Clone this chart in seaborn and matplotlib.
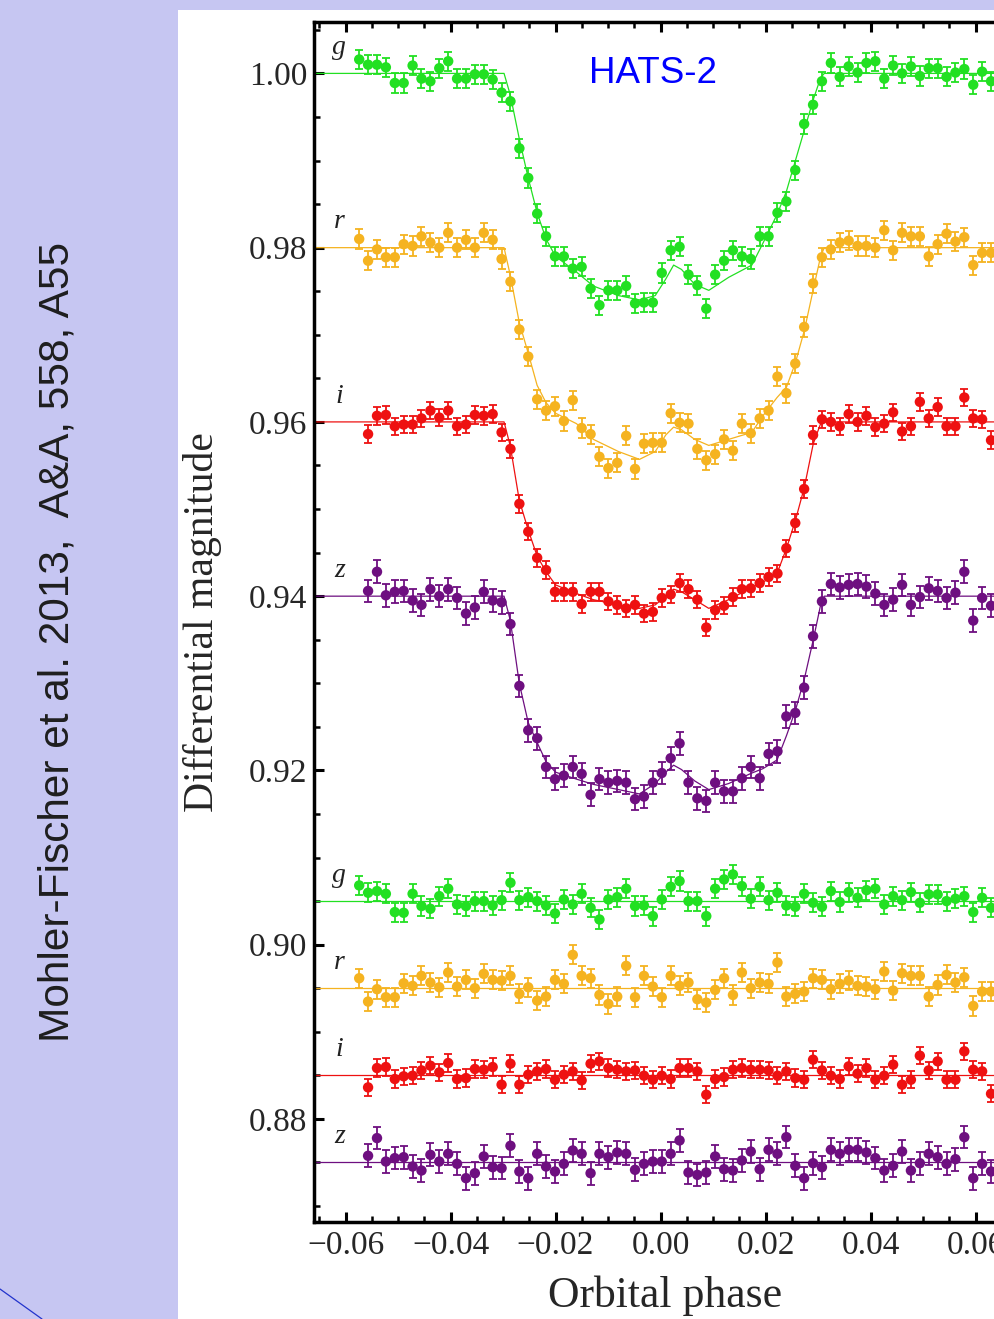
import numpy as np
import pandas as pd
import matplotlib
matplotlib.use("Agg")
import matplotlib.pyplot as plt
from matplotlib.patches import Rectangle
from matplotlib.lines import Line2D
from matplotlib.ticker import MultipleLocator, FuncFormatter
import seaborn as sns

# ---------------- data ----------------
phase = [-0.05739, -0.05570, -0.05400, -0.05231, -0.05061, -0.04892, -0.04722, -0.04553,
         -0.04383, -0.04214, -0.04044, -0.03875, -0.03705, -0.03536, -0.03366, -0.03197,
         -0.03027, -0.02858, -0.02688, -0.02519, -0.02349, -0.02180, -0.02010, -0.01841,
         -0.01671, -0.01502, -0.01332, -0.01163, -0.00993, -0.00824, -0.00654, -0.00485,
         -0.00315, -0.00146, 0.00024, 0.00194, 0.00363, 0.00533, 0.00702, 0.00872,
         0.01041, 0.01211, 0.01380, 0.01550, 0.01719, 0.01889, 0.02058, 0.02228,
         0.02397, 0.02567, 0.02736, 0.02906, 0.03075, 0.03245, 0.03414, 0.03584,
         0.03753, 0.03923, 0.04092, 0.04262, 0.04431, 0.04601, 0.04770, 0.04940,
         0.05109, 0.05279, 0.05448, 0.05618, 0.05787, 0.05957, 0.06126, 0.06296]

lc_g = [1.0016, 1.0010, 1.0010, 1.0007, 0.9989, 0.9989, 1.0009, 0.9994, 0.9991, 1.0006,
        1.0014, 0.9994, 0.9994, 0.9999, 0.9999, 0.9993, 0.9978, 0.9968, 0.9914, 0.9880,
        0.9839, 0.9813, 0.9790, 0.9790, 0.9776, 0.9778, 0.9753, 0.9734, 0.9751, 0.9751,
        0.9756, 0.9736, 0.9737, 0.9737, 0.9771, 0.9797, 0.9801, 0.9769, 0.9757, 0.9730,
        0.9769, 0.9785, 0.9797, 0.9790, 0.9787, 0.9813, 0.9813, 0.9840, 0.9853, 0.9889,
        0.9942, 0.9964, 0.9991, 1.0012, 0.9996, 1.0008, 1.0001, 1.0012, 1.0014, 0.9994,
        1.0009, 1.0000, 1.0008, 0.9997, 1.0006, 1.0006, 0.9996, 1.0001, 1.0005, 0.9987,
        1.0002, 0.9991]

lc_r = [0.9810, 0.9785, 0.9798, 0.9789, 0.9789, 0.9804, 0.9802, 0.9813, 0.9806, 0.9800,
        0.9817, 0.9800, 0.9809, 0.9800, 0.9817, 0.9809, 0.9787, 0.9761, 0.9706, 0.9675,
        0.9626, 0.9613, 0.9618, 0.9601, 0.9625, 0.9593, 0.9586, 0.9560, 0.9547, 0.9553,
        0.9584, 0.9546, 0.9575, 0.9576, 0.9576, 0.9610, 0.9599, 0.9598, 0.9569, 0.9556,
        0.9563, 0.9580, 0.9567, 0.9598, 0.9587, 0.9604, 0.9613, 0.9652, 0.9633, 0.9667,
        0.9709, 0.9759, 0.9789, 0.9798, 0.9806, 0.9808, 0.9802, 0.9802, 0.9800, 0.9820,
        0.9797, 0.9817, 0.9813, 0.9813, 0.9790, 0.9804, 0.9816, 0.9807, 0.9812, 0.9780,
        0.9794, 0.9794]

lc_i = [np.nan, 0.9586, 0.9607, 0.9608, 0.9595, 0.9597, 0.9597, 0.9604, 0.9613, 0.9605,
        0.9613, 0.9595, 0.9597, 0.9608, 0.9607, 0.9609, 0.9588, 0.9569, 0.9506, 0.9474,
        0.9444, 0.9430, 0.9405, 0.9405, 0.9405, 0.9391, 0.9405, 0.9405, 0.9394, 0.9390,
        0.9386, 0.9390, 0.9380, 0.9382, 0.9398, 0.9402, 0.9415, 0.9408, 0.9396, 0.9364,
        0.9384, 0.9389, 0.9399, 0.9408, 0.9409, 0.9415, 0.9422, 0.9426, 0.9455, 0.9484,
        0.9523, 0.9585, 0.9603, 0.9600, 0.9595, 0.9609, 0.9600, 0.9607, 0.9594, 0.9598,
        0.9611, 0.9589, 0.9595, 0.9623, 0.9604, 0.9617, 0.9595, 0.9595, 0.9628, 0.9604,
        0.9603, 0.9579]

lc_z = [np.nan, 0.9406, 0.9428, 0.9401, 0.9405, 0.9406, 0.9395, 0.9390, 0.9408, 0.9400,
        0.9408, 0.9398, 0.9380, 0.9387, 0.9405, 0.9395, 0.9393, 0.9368, 0.9297, 0.9246,
        0.9237, 0.9204, 0.9190, 0.9194, 0.9204, 0.9196, 0.9172, 0.9190, 0.9186, 0.9188,
        0.9186, 0.9167, 0.9170, 0.9186, 0.9197, 0.9214, 0.9231, 0.9186, 0.9168, 0.9165,
        0.9186, 0.9176, 0.9176, 0.9191, 0.9204, 0.9191, 0.9219, 0.9222, 0.9262, 0.9266,
        0.9295, 0.9354, 0.9394, 0.9414, 0.9410, 0.9413, 0.9414, 0.9411, 0.9403, 0.9390,
        0.9396, 0.9413, 0.9390, 0.9399, 0.9409, 0.9406, 0.9398, 0.9404, 0.9428, 0.9372,
        0.9398, 0.9389]

# residuals (data - model), in units of 1e-3 mag
res_g = [1.80, 0.96, 1.15, 0.84, -1.26, -1.34, 0.84, -0.57, -0.88, 0.57,
         1.42, -0.38, -0.57, 0.00, 0.00, -0.50, 0.11, 2.11, 0.11, 0.46,
         0.00, -0.50, -1.42, 0.19, -0.38, 0.84, -0.77, -2.11, 0.19, 0.46,
         1.42, -0.57, -0.50, -1.72, 0.19, 1.65, 2.30, 0.00, 0.00, -1.72,
         1.42, 2.49, 3.06, 1.72, 0.27, 1.65, 0.11, 0.96, -0.50, -0.65,
         0.84, -0.19, -0.65, 1.15, -0.11, 1.03, 0.38, 1.26, 1.42, -0.38,
         0.57, 0.11, 1.03, -0.19, 0.77, 0.77, 0.00, 0.27, 0.57, -1.26,
         0.38, -0.77]

res_r = [1.15, -1.53, -0.11, -1.03, -1.03, 0.57, 0.27, 1.42, 0.65, 0.11,
         1.80, 0.19, 0.96, 0.00, 1.65, 0.96, 0.88, 1.42, -0.65, 0.11,
         -1.42, -0.96, 0.96, 0.50, 3.83, 1.42, 1.15, -0.77, -1.80, -0.96,
         2.57, -1.03, 1.42, 0.19, -1.03, 1.42, 0.27, 0.65, -1.26, -1.65,
         -0.19, 1.15, -0.77, 1.80, 0.00, 0.65, 0.50, 2.95, -0.96, -0.65,
         -0.38, 1.15, 0.96, -0.11, 0.50, 0.88, 0.27, 0.19, -0.11, 1.92,
         -0.27, 1.72, 1.42, 1.42, -0.96, 0.38, 1.53, 0.65, 1.26, -2.03,
         -0.38, -0.38]

res_i = [np.nan, -1.38, 0.84, 0.96, -0.42, -0.11, -0.04, 0.57, 1.11, 0.34,
         1.42, -0.42, -0.31, 0.73, 0.65, 0.96, -1.07, 1.34, -1.07, 0.08,
         0.46, 0.73, -0.50, 0.08, 0.46, -0.57, 1.34, 1.61, 0.84, 0.65,
         0.46, 0.57, -0.04, -0.50, -0.04, -0.42, 0.84, 0.84, 0.46, -2.22,
         -0.42, -0.19, 0.65, 0.84, 0.65, 0.65, 0.57, -0.04, 0.46, -0.31,
         -0.50, 1.80, 0.57, -0.04, -0.42, 1.03, 0.19, 0.84, -0.50, -0.04,
         1.23, -1.07, -0.50, 2.26, 0.57, 1.61, -0.50, -0.50, 2.76, 0.65,
         0.46, -2.11]

res_z = [np.nan, 0.77, 2.80, 0.11, 0.50, 0.61, -0.46, -0.92, 0.88, 0.11,
         1.00, -0.15, -1.80, -1.23, 0.69, -0.54, -0.65, 1.92, -1.03, -1.80,
         1.00, -0.46, -1.03, -0.15, 1.38, 1.00, -1.23, 1.00, 0.61, 1.15,
         1.00, -0.84, -0.15, 0.11, 0.11, 1.00, 2.53, -1.15, -1.42, -1.15,
         0.69, -0.77, -0.92, 0.23, 1.26, -0.77, 1.46, 1.00, 2.91, -0.38,
         -1.80, -0.08, -0.54, 1.46, 1.00, 1.46, 1.46, 1.15, 0.50, -0.92,
         -0.38, 1.26, -0.92, -0.08, 1.00, 0.61, -0.15, 0.38, 2.91, -1.80,
         -0.15, -1.03]

# transit model (with spot-crossing bump), sampled at knots
model_phase = [-0.070, -0.0298, -0.0286, -0.0269, -0.0252, -0.0235, -0.0218, -0.0200,
               -0.0160, -0.0128, -0.0080, -0.0040, -0.0010, 0.0010, 0.0025, 0.0040,
               0.0065, 0.0092, 0.0130, 0.0174, 0.0195, 0.0222, 0.0240, 0.0257,
               0.0274, 0.0291, 0.0305, 0.0312, 0.070]
model_g = [1.0000, 1.0000, 0.9975, 0.9925, 0.9880, 0.9840, 0.9810, 0.9790,
           0.9772, 0.9756, 0.9745, 0.9740, 0.9745, 0.9764, 0.9780, 0.9775,
           0.9758, 0.9751, 0.9766, 0.9780, 0.9805, 0.9838, 0.9865, 0.9900,
           0.9935, 0.9970, 0.9995, 1.0000, 1.0000]
model_r = [0.9800, 0.9800, 0.9768, 0.9714, 0.9679, 0.9642, 0.9622, 0.9610,
           0.9598, 0.9580, 0.9566, 0.9557, 0.9566, 0.9585, 0.9594, 0.9591,
           0.9580, 0.9573, 0.9580, 0.9588, 0.9607, 0.9628, 0.9640, 0.9668,
           0.9705, 0.9752, 0.9790, 0.9800, 0.9800]
model_i = [0.9600, 0.9600, 0.9572, 0.9510, 0.9476, 0.9446, 0.9428, 0.9413,
           0.9403, 0.9396, 0.9390, 0.9386, 0.9390, 0.9400, 0.9408, 0.9405,
           0.9396, 0.9386, 0.9396, 0.9410, 0.9416, 0.9426, 0.9455, 0.9487,
           0.9525, 0.9575, 0.9598, 0.9600, 0.9600]
model_z = [0.9400, 0.9400, 0.9372, 0.9300, 0.9255, 0.9232, 0.9210, 0.9198,
           0.9190, 0.9184, 0.9178, 0.9173, 0.9185, 0.9198, 0.9206, 0.9201,
           0.9188, 0.9178, 0.9185, 0.9197, 0.9202, 0.9212, 0.9240, 0.9269,
           0.9305, 0.9350, 0.9390, 0.9400, 0.9400]

bands = ["g", "r", "i", "z"]
band_colors = ["#22e022", "#f5b320", "#ee1111", "#6e0f80"]
errors = [0.0011, 0.0011, 0.0010, 0.0013]
lc_baselines = [1.00, 0.98, 0.96, 0.94]
res_offsets = [0.905, 0.895, 0.885, 0.875]

light_curves = [lc_g, lc_r, lc_i, lc_z]
residuals = [res_g, res_r, res_i, res_z]
models = [model_g, model_r, model_i, model_z]

# ---------------- tables ----------------
rows = []
mrows = []
for b, lc, res, err, off, mod in zip(bands, light_curves, residuals, errors,
                                     res_offsets, models):
    for p, v in zip(phase, lc):
        rows.append({"band": b, "phase": p, "value": v, "err": err})
    for p, d in zip(phase, res):
        rows.append({"band": b, "phase": p, "value": off + d * 1e-3, "err": err})
    for p, v in zip(model_phase, mod):
        mrows.append({"band": b, "curve": b + "_lc", "phase": p, "value": v})
    for p in (model_phase[0], model_phase[-1]):
        mrows.append({"band": b, "curve": b + "_res", "phase": p, "value": off})
df = pd.DataFrame(rows).dropna()
mdf = pd.DataFrame(mrows)
palette = dict(zip(bands, band_colors))

# ---------------- figure ----------------
sns.set_style("ticks")
plt.rcParams["font.family"] = ["Liberation Serif", "DejaVu Serif"]
plt.rcParams["axes.unicode_minus"] = True

W, H = 994, 1319
fig = plt.figure(figsize=(W / 100, H / 100), dpi=100, facecolor="#c6c6f2")
fig.add_artist(Rectangle((178 / W, 0), 1 - 178 / W, 1 - 10 / H,
                         transform=fig.transFigure, facecolor="white",
                         edgecolor="none", zorder=-5))

ax = fig.add_axes([314 / W, 97 / H, 693 / W, 1200 / H])
ax.set_facecolor("white")

for b, c in zip(bands, band_colors):
    sub = df[df["band"] == b]
    ax.errorbar(sub["phase"], sub["value"], yerr=sub["err"], fmt="none",
                ecolor=c, elinewidth=1.3, capsize=2.8, capthick=1.3, zorder=2)

sns.lineplot(data=mdf, x="phase", y="value", hue="band", units="curve",
             estimator=None, sort=False, palette=palette, linewidth=0.9,
             legend=False, ax=ax, zorder=2.5)

sns.scatterplot(data=df, x="phase", y="value", hue="band", palette=palette,
                s=56, linewidth=0, legend=False, ax=ax, zorder=3)

ax.set_xlim(-0.0660, 0.0660)
ax.set_ylim(0.86817, 1.0059)

fmt = FuncFormatter(lambda v, pos: "0.00" if abs(v) < 1e-9
                    else f"{v:.2f}".replace("-", "\u2212"))
ax.xaxis.set_major_locator(MultipleLocator(0.02))
ax.xaxis.set_minor_locator(MultipleLocator(0.005))
ax.yaxis.set_major_locator(MultipleLocator(0.02))
ax.yaxis.set_minor_locator(MultipleLocator(0.005))
ax.xaxis.set_major_formatter(fmt)
ax.yaxis.set_major_formatter(fmt)

ax.tick_params(which="both", direction="in", top=True, right=True,
               color="black", labelsize=24)
ax.tick_params(which="major", length=7, width=2.2)
ax.tick_params(which="minor", length=4, width=1.8)
ax.tick_params(axis="x", pad=6)
ax.tick_params(axis="y", pad=5)
for sp in ax.spines.values():
    sp.set_linewidth(2.5)
    sp.set_color("black")

ax.set_xlabel("Orbital phase", fontsize=31.5)
ax.set_ylabel("Differential magnitude", fontsize=30)
ax.xaxis.set_label_coords(0.5065, -0.045)
ax.yaxis.set_label_coords(-0.133, 0.5)

# band letters
for b, base in zip(bands + bands, lc_baselines + res_offsets):
    ax.text(-0.0612, base + 0.0022, b, style="italic", fontsize=20,
            ha="center", va="baseline", color="#222222", zorder=4)

# slide annotations
fig.text(589 / W, 1 - 83 / H, "HATS-2", color="#0000ff", fontsize=26.5,
         family=["Liberation Sans", "DejaVu Sans"], ha="left", va="baseline")
fig.text(58 / W, 1 - 642 / H, "Mohler-Fischer et al. 2013,  A&A, 558, A55",
         rotation=90, fontsize=30.5, family=["Liberation Sans", "DejaVu Sans"],
         color="#1e1e1e", ha="center", va="center")
fig.add_artist(Line2D([0, 42 / W], [1 - 1289 / H, 0], transform=fig.transFigure,
                      color="#2233cc", lw=0.9))

fig.savefig("out.png", dpi=100, facecolor=fig.get_facecolor())
